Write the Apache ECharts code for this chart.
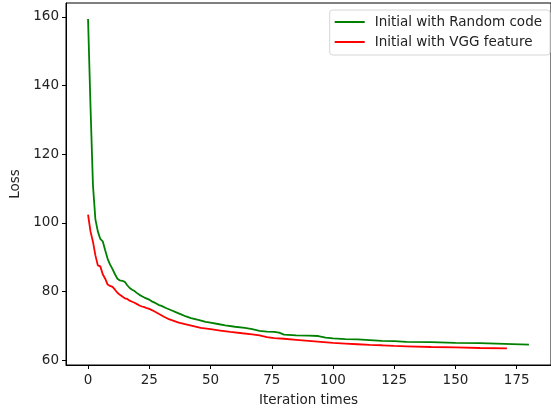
<!DOCTYPE html>
<html>
<head>
<meta charset="utf-8">
<script src="https://cdn.jsdelivr.net/npm/echarts@6/dist/echarts.min.js"></script>
<style>
  html, body { margin: 0; padding: 0; background: #fff; }
  #chart { width: 551px; height: 412px; }
</style>
</head>
<body>
<div id="chart"></div>
<script>
// values, [iteration, loss]
var randomCode = [
  [0, 159.4], [1, 134], [2, 111], [3, 101], [4, 97.5], [5, 95.3], [6, 94.6], [7, 92],
  [8, 89.5], [9, 87.8], [10, 86.5], [11, 85], [12, 83.7], [13, 83.2], [14, 83.1],
  [15, 82.8], [16, 81.8], [17, 81], [18, 80.5], [19, 80.1], [20, 79.5], [21, 79],
  [22, 78.6], [23, 78.2], [24, 77.9], [25, 77.6], [26, 77.1], [27, 76.8], [28, 76.4],
  [29, 76], [30, 75.8], [32, 75.1], [34, 74.5], [36, 73.9], [38, 73.3], [40, 72.7],
  [42, 72.2], [45, 71.7], [48, 71.1], [50, 70.9], [53, 70.5], [56, 70.1], [60, 69.7],
  [64, 69.4], [67, 69], [70, 68.5], [73, 68.3], [76, 68.2], [78, 68], [80, 67.4],
  [85, 67.2], [90, 67.1], [94, 67], [97, 66.5], [100, 66.3], [105, 66.1], [110, 66],
  [115, 65.8], [120, 65.6], [125, 65.5], [130, 65.3], [140, 65.2], [150, 65.0],
  [160, 64.9], [170, 64.7], [180, 64.5]
];
var vggFeature = [
  [0, 102.4], [1, 97.5], [2, 94.5], [3, 90.5], [4, 87.6], [5, 87.3], [6, 85], [7, 83.7],
  [8, 82], [9, 81.6], [10, 81.3], [11, 80.5], [12, 79.6], [13, 79], [14, 78.5], [15, 78],
  [16, 77.8], [17, 77.3], [18, 77], [19, 76.7], [20, 76.3], [21, 75.9], [22, 75.6],
  [23, 75.4], [24, 75.1], [25, 74.9], [27, 74.2], [29, 73.4], [31, 72.6], [33, 71.9],
  [35, 71.4], [37, 70.9], [40, 70.4], [43, 69.9], [46, 69.4], [50, 69], [54, 68.6],
  [58, 68.2], [63, 67.8], [67, 67.5], [70, 67.2], [73, 66.7], [76, 66.4], [80, 66.2],
  [85, 65.9], [90, 65.6], [95, 65.3], [100, 65.0], [105, 64.8], [110, 64.6], [115, 64.4],
  [120, 64.3], [125, 64.1], [130, 64.0], [140, 63.8], [150, 63.7], [160, 63.5], [171, 63.4]
];
var xTicks = [0, 25, 50, 75, 100, 125, 150, 175];
var yTicks = [60, 80, 100, 120, 140, 160];
var seriesNames = ["Initial with Random code", "Initial with VGG feature"];

var font = "DejaVu Sans";
var fs = 13.5;
var chart = echarts.init(document.getElementById("chart"));
var option = {
  animation: false,
  grid: {
    left: 66, top: 3, right: -3, bottom: 46,
    show: true, borderColor: "#000", borderWidth: 1, backgroundColor: "transparent"
  },
  legend: {
    orient: "vertical",
    right: 1,
    top: 10,
    icon: "rect",
    itemWidth: 30,
    itemHeight: 2,
    itemGap: 4,
    padding: [4, 8, 5, 5],
    backgroundColor: "#fff",
    borderColor: "#d6d6d6",
    borderWidth: 1,
    borderRadius: 3,
    textStyle: { fontFamily: font, fontSize: fs, lineHeight: 16, color: "#222", padding: [0, 0, 0, 5] },
    data: seriesNames
  },
  xAxis: {
    type: "value",
    min: -9,
    max: 189,
    name: "Iteration times",
    nameLocation: "middle",
    nameGap: 28,
    nameTextStyle: { fontFamily: font, fontSize: fs, color: "#222" },
    axisLine: { show: true, onZero: false, lineStyle: { color: "#000", width: 1 } },
    axisTick: { show: true, length: 4, customValues: xTicks, lineStyle: { color: "#000" } },
    axisLabel: { customValues: xTicks, margin: 8, fontFamily: font, fontSize: fs, color: "#222" },
    splitLine: { show: false }
  },
  yAxis: {
    type: "value",
    min: 58.55,
    max: 164.07,
    name: "Loss",
    nameLocation: "middle",
    nameGap: 37,
    nameTextStyle: { fontFamily: font, fontSize: fs, color: "#222" },
    axisLine: { show: true, onZero: false, lineStyle: { color: "#000", width: 1 } },
    axisTick: { show: true, length: 4, customValues: yTicks, lineStyle: { color: "#000" } },
    axisLabel: { customValues: yTicks, margin: 7, fontFamily: font, fontSize: fs, color: "#222" },
    splitLine: { show: false }
  },
  series: [
    {
      name: seriesNames[0],
      type: "line",
      data: randomCode,
      symbol: "none",
      lineStyle: { color: "#008000", width: 1.8 },
      itemStyle: { color: "#008000" }
    },
    {
      name: seriesNames[1],
      type: "line",
      data: vggFeature,
      symbol: "none",
      lineStyle: { color: "#ff0000", width: 1.8 },
      itemStyle: { color: "#ff0000" }
    }
  ]
};
chart.setOption(option);
</script>
</body>
</html>
